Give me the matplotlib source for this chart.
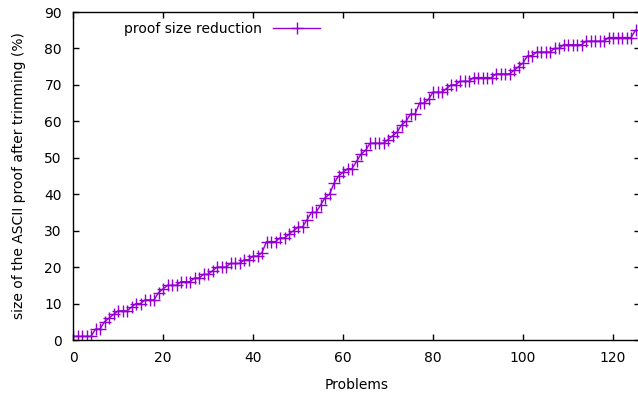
import numpy as np
import matplotlib
matplotlib.use("Agg")
import matplotlib.pyplot as plt

# data (sorted reduction per problem, %)
problems = np.arange(126)
reduction = [
    1, 1, 1, 1, 1, 3, 3, 5, 6, 7,
    8, 8, 8, 9, 10, 10, 11, 11, 11, 13,
    14, 15, 15, 15, 16, 16, 16, 17, 17, 18,
    18, 19, 20, 20, 20, 21, 21, 21, 22, 22,
    23, 23, 24, 27, 27, 27, 28, 28, 29, 30,
    31, 31, 33, 35, 35, 37, 39, 40, 43, 45,
    46, 47, 47, 49, 51, 52, 54, 54, 54, 54,
    55, 56, 57, 59, 60, 62, 62, 65, 65, 66,
    68, 68, 68, 69, 70, 70, 71, 71, 71, 72,
    72, 72, 72, 72, 73, 73, 73, 73, 74, 75,
    76, 78, 78, 79, 79, 79, 79, 80, 80, 81,
    81, 81, 81, 81, 82, 82, 82, 82, 82, 83,
    83, 83, 83, 83, 83, 85,
]
x_ticks = [0, 20, 40, 60, 80, 100, 120]
y_ticks = [0, 10, 20, 30, 40, 50, 60, 70, 80, 90]

plt.rcParams['font.family'] = 'DejaVu Sans'
plt.rcParams['font.size'] = 10

fig = plt.figure(figsize=(6.38, 3.96), dpi=100)
ax = fig.add_axes([73/638, 56/396, 567/638, 328/396])

ax.plot(problems, reduction, color='#9400D3', lw=1, marker='+',
        markersize=9, markeredgewidth=1, label='proof size reduction')

ax.set_xlim(0, 126)
ax.set_ylim(0, 90)
ax.set_xticks(x_ticks)
ax.set_yticks(y_ticks)
ax.tick_params(direction='in', top=True, right=True, length=4.3, width=1)
ax.tick_params(axis='x', pad=8)
ax.tick_params(axis='y', pad=8)
for s in ax.spines.values():
    s.set_linewidth(1)

ax.set_xlabel('Problems', labelpad=9)
ax.set_ylabel('size of the ASCII proof after trimming (%)', labelpad=13)

# legend: text first, then the line sample (gnuplot style)
leg = ax.legend(loc='upper left', bbox_to_anchor=(0.073, 1.0), frameon=False,
                markerfirst=False, handlelength=3.4, borderaxespad=0.3)

fig.savefig('out.png', dpi=100)
